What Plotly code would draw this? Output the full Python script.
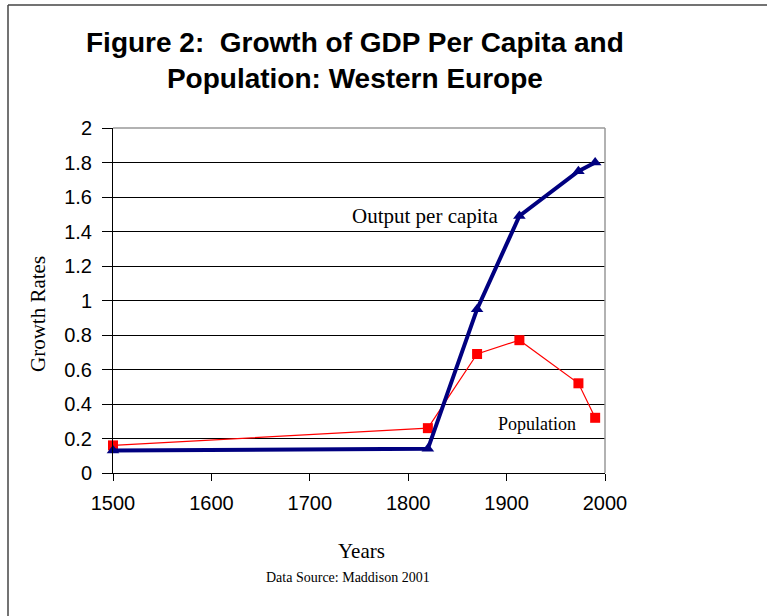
import plotly.graph_objects as go

years = [1500, 1820, 1870, 1913, 1973, 1990]
output_per_capita = [0.13, 0.14, 0.95, 1.49, 1.75, 1.80]
population = [0.16, 0.26, 0.69, 0.77, 0.52, 0.32]
x_ticks = [1500, 1600, 1700, 1800, 1900, 2000]
y_ticks = [0, 0.2, 0.4, 0.6, 0.8, 1, 1.2, 1.4, 1.6, 1.8, 2]

W, H = 767, 616
L, R, T, B = 113, 605, 128, 473
pw, ph = R - L, B - T


def px(x):
    return (x - L) / pw


def py(y):
    return (B - y) / ph


fig = go.Figure()
fig.add_trace(go.Scatter(
    x=years, y=population, mode="lines+markers", name="Population",
    line=dict(color="#FF0000", width=1.2),
    marker=dict(symbol="square", size=10, color="#FF0000"),
    cliponaxis=False,
))
fig.add_trace(go.Scatter(
    x=years, y=output_per_capita, mode="lines+markers", name="Output per capita",
    line=dict(color="#000080", width=4),
    marker=dict(symbol="triangle-up", size=11, color="#000080"),
    cliponaxis=False,
))

serif = "Liberation Serif, Times New Roman, serif"
sans = "Liberation Sans, Arial, sans-serif"

fig.update_layout(
    width=W, height=H,
    margin=dict(l=L, r=W - R, t=T, b=H - B),
    paper_bgcolor="white", plot_bgcolor="white",
    showlegend=False,
    xaxis=dict(
        range=[1500, 2000], tickvals=x_ticks, showgrid=False, zeroline=False,
        showline=True, linecolor="black", linewidth=1,
        ticks="outside", ticklen=7, tickcolor="black", ticklabelstandoff=5,
        tickfont=dict(family=sans, size=20, color="black"),
    ),
    yaxis=dict(
        range=[0, 2], tickvals=y_ticks, showgrid=True, gridcolor="black", gridwidth=1,
        zeroline=False, showline=True, linecolor="black", linewidth=1,
        ticks="outside", ticklen=10, tickcolor="black", ticklabelstandoff=6,
        tickfont=dict(family=sans, size=20, color="black"),
    ),
    shapes=[
        dict(type="line", xref="paper", yref="paper", x0=0, x1=1, y0=1, y1=1,
             line=dict(color="#999999", width=1.5)),
        dict(type="line", xref="paper", yref="paper", x0=1, x1=1, y0=0, y1=1,
             line=dict(color="#999999", width=1.5)),
        dict(type="line", xref="paper", yref="paper", x0=px(8), x1=px(8), y0=py(5), y1=py(H + 5),
             line=dict(color="#444444", width=1.5)),
        dict(type="line", xref="paper", yref="paper", x0=px(8), x1=px(W + 5), y0=py(5), y1=py(5),
             line=dict(color="#444444", width=1.5)),
    ],
    annotations=[
        dict(text="<b>Figure 2:&nbsp; Growth of GDP Per Capita and<br>Population: Western Europe</b>",
             xref="paper", yref="paper", x=px(355), y=py(60), xanchor="center", yanchor="middle",
             showarrow=False, font=dict(family=sans, size=28, color="black")),
        dict(text="Output per capita", xref="paper", yref="paper", x=px(425), y=py(216),
             xanchor="center", yanchor="middle", showarrow=False,
             font=dict(family=serif, size=21, color="black")),
        dict(text="Population", xref="paper", yref="paper", x=px(537), y=py(424),
             xanchor="center", yanchor="middle", showarrow=False,
             font=dict(family=serif, size=18, color="black")),
        dict(text="Growth Rates", xref="paper", yref="paper", x=px(38), y=py(314),
             xanchor="center", yanchor="middle", showarrow=False, textangle=-90,
             font=dict(family=serif, size=21, color="black")),
        dict(text="Years", xref="paper", yref="paper", x=px(361), y=py(551),
             xanchor="center", yanchor="middle", showarrow=False,
             font=dict(family=serif, size=21, color="black")),
        dict(text="Data Source: Maddison 2001", xref="paper", yref="paper", x=px(348), y=py(577),
             xanchor="center", yanchor="middle", showarrow=False,
             font=dict(family=serif, size=14, color="black")),
    ],
)

fig.write_html("out.html", config={"displayModeBar": False},
               post_script="document.body.style.margin='0';")
